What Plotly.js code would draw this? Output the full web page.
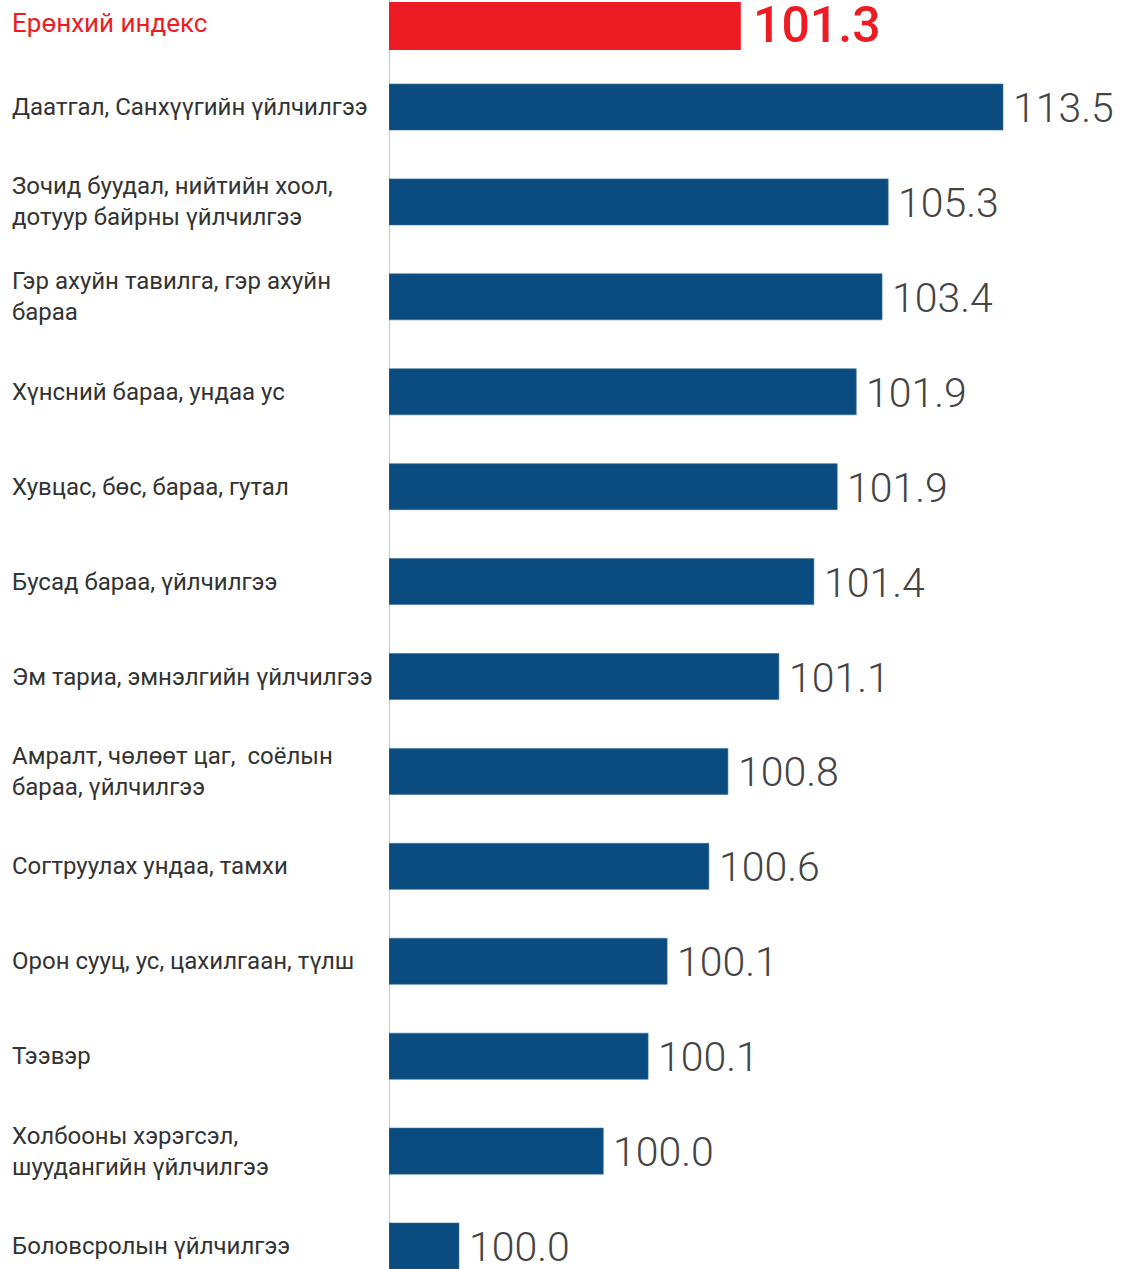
<!DOCTYPE html>
<html>
<head>
<meta charset="utf-8">
<script src="https://cdn.plot.ly/plotly-3.0.1.min.js"></script>
<style>
  html, body { margin: 0; padding: 0; background: #ffffff; }
  #chart { width: 1128px; height: 1269px; }
</style>
</head>
<body>
<div id="chart"></div>
<script>
// ---- Data ----
// Headline (general index)
const totalLabel = "Ерөнхий индекс";
const totalValue = 101.3;
const totalBarLength = 57.3;   // bar length as drawn in the reference (relative, longest bar = 100)

// Categories (top to bottom)
const categories = [
  "Даатгал, Санхүүгийн үйлчилгээ",
  "Зочид буудал, нийтийн хоол,<br>дотуур байрны үйлчилгээ",
  "Гэр ахуйн тавилга, гэр ахуйн<br>бараа",
  "Хүнсний бараа, ундаа ус",
  "Хувцас, бөс, бараа, гутал",
  "Бусад бараа, үйлчилгээ",
  "Эм тариа, эмнэлгийн үйлчилгээ",
  "Амралт, чөлөөт цаг,  соёлын<br>бараа, үйлчилгээ",
  "Согтруулах ундаа, тамхи",
  "Орон сууц, ус, цахилгаан, түлш",
  "Тээвэр",
  "Холбооны хэрэгсэл,<br>шуудангийн үйлчилгээ",
  "Боловсролын үйлчилгээ"
];
// Index values shown as labels
const indexValues = [113.5, 105.3, 103.4, 101.9, 101.9, 101.4, 101.1, 100.8, 100.6, 100.1, 100.1, 100.0, 100.0];
// Bar lengths as drawn in the reference (relative, longest bar = 100)
const barLength = [100, 81.3, 80.3, 76.1, 73.0, 69.2, 63.5, 55.2, 52.1, 45.3, 42.2, 34.9, 11.4];

// ---- Styles ----
const RED = "#ED1C24";
const BLUE = "#0A4C7F";
const LABEL_COLOR = "#333333";
const VALUE_COLOR = "#444444";

const traces = [
  {
    type: "bar",
    orientation: "h",
    x: barLength,
    y: categories,
    xaxis: "x",
    yaxis: "y",
    width: 0.485,
    marker: { color: BLUE, line: { color: "#3a6f9a", width: 0.6 } },
    hoverinfo: "skip"
  },
  {
    type: "bar",
    orientation: "h",
    x: [totalBarLength],
    y: [totalLabel],
    xaxis: "x",
    yaxis: "y2",
    width: 0.923,
    marker: { color: RED },
    hoverinfo: "skip"
  }
];

const annotations = [];
const labelX = (10 - 389) / 739;
categories.forEach((c, i) => {
  annotations.push({
    xref: "paper", yref: "y", x: labelX, y: c,
    xanchor: "left", yanchor: "middle", align: "left",
    text: c, showarrow: false,
    font: { family: "Roboto, 'Open Sans', sans-serif", size: 24, color: LABEL_COLOR }
  });
  annotations.push({
    xref: "x", yref: "y", x: barLength[i], y: c,
    xanchor: "left", yanchor: "middle", xshift: 8, yshift: -1,
    text: indexValues[i].toFixed(1), showarrow: false,
    font: { family: "Roboto, sans-serif", size: 41, color: VALUE_COLOR, weight: 300 }
  });
});
annotations.push({
  xref: "paper", yref: "y2", x: labelX, y: totalLabel,
  xanchor: "left", yanchor: "middle", align: "left", yshift: 3,
  text: totalLabel, showarrow: false,
  font: { family: "Roboto, 'Open Sans', sans-serif", size: 26, color: RED }
});
annotations.push({
  xref: "x", yref: "y2", x: totalBarLength, y: totalLabel,
  xanchor: "left", yanchor: "middle", xshift: 10, yshift: 1,
  text: totalValue.toFixed(1), showarrow: false,
  font: { family: "Roboto, sans-serif", size: 50, color: RED, weight: 500 }
});

const layout = {
  width: 1128,
  height: 1269,
  margin: { l: 389, r: 0, t: 0, b: 0, pad: 0 },
  paper_bgcolor: "#ffffff",
  plot_bgcolor: "#ffffff",
  showlegend: false,
  xaxis: {
    range: [0, 120.36],
    visible: false,
    fixedrange: true
  },
  yaxis: {
    type: "category",
    domain: [0, 0.9527],
    range: [12.242, -0.495],
    visible: false,
    fixedrange: true
  },
  yaxis2: {
    type: "category",
    domain: [0.959, 1],
    range: [0.5, -0.5],
    anchor: "x",
    visible: false,
    fixedrange: true
  },
  shapes: [
    {
      type: "line", xref: "x", yref: "paper",
      x0: 0, x1: 0, y0: 0, y1: 1,
      line: { color: "#cccccc", width: 2 },
      layer: "below"
    }
  ],
  annotations: annotations
};

Plotly.newPlot("chart", traces, layout, { displayModeBar: false, staticPlot: true });
</script>
</body>
</html>
